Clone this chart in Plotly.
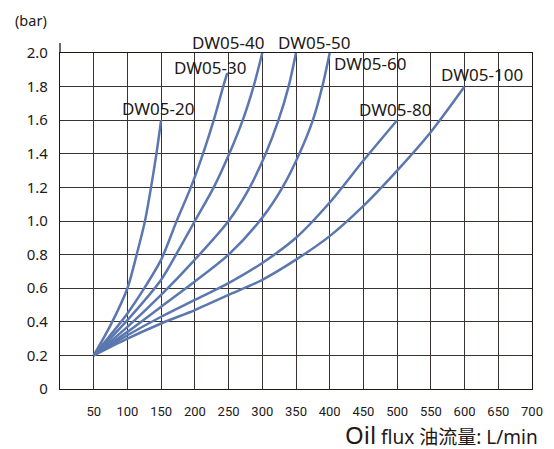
import plotly.graph_objects as go

# Flow (L/min) and pressure drop (bar)
dw20_x = [50, 75, 100, 115, 126, 135, 143, 150]
dw20_y = [0.2, 0.38, 0.6, 0.82, 1.0, 1.2, 1.4, 1.6]

dw30_x = [50, 100, 125, 150, 173, 194, 212, 228, 242, 248]
dw30_y = [0.2, 0.45, 0.6, 0.77, 1.0, 1.2, 1.4, 1.6, 1.8, 1.88]

dw40_x = [50, 100, 150, 175, 200, 228, 251, 271, 287, 300]
dw40_y = [0.2, 0.41, 0.65, 0.82, 1.0, 1.2, 1.4, 1.6, 1.8, 2.0]

dw50_x = [50, 100, 150, 200, 250, 280, 305, 324, 339, 350]
dw50_y = [0.2, 0.37, 0.56, 0.77, 1.0, 1.19, 1.4, 1.6, 1.8, 2.0]

dw60_x = [50, 100, 150, 200, 250, 300, 330, 355, 375, 389, 400]
dw60_y = [0.2, 0.34, 0.49, 0.64, 0.8, 1.02, 1.2, 1.4, 1.6, 1.8, 2.0]

dw80_x = [50, 100, 150, 200, 250, 300, 350, 400, 450, 500]
dw80_y = [0.2, 0.32, 0.43, 0.53, 0.63, 0.75, 0.9, 1.11, 1.36, 1.6]

dw100_x = [50, 100, 150, 200, 250, 300, 350, 400, 450, 500, 550, 600]
dw100_y = [0.2, 0.3, 0.39, 0.47, 0.56, 0.65, 0.77, 0.91, 1.09, 1.3, 1.53, 1.8]

series_names = ["DW05-20", "DW05-30", "DW05-40", "DW05-50", "DW05-60", "DW05-80", "DW05-100"]
series_x = [dw20_x, dw30_x, dw40_x, dw50_x, dw60_x, dw80_x, dw100_x]
series_y = [dw20_y, dw30_y, dw40_y, dw50_y, dw60_y, dw80_y, dw100_y]

# label anchor positions (x in data units, y in paper units)
label_x = [146, 223, 249, 377, 460, 497, 626]
label_y = [0.836, 0.958, 1.03, 1.03, 0.97, 0.833, 0.935]

x_ticks = list(range(50, 701, 50))
y_ticks = [0, 0.2, 0.4, 0.6, 0.8, 1.0, 1.2, 1.4, 1.6, 1.8, 2.0]
y_tick_text = ["0", "0.2", "0.4", "0.6", "0.8", "1.0", "1.2", "1.4", "1.6", "1.8", "2.0"]

LINE = "#5b77af"
INK = "#231815"
GRID = "#3a3230"
FONT = "Noto Sans, Open Sans, sans-serif"

fig = go.Figure()
for name, xs, ys in zip(series_names, series_x, series_y):
    fig.add_trace(go.Scatter(x=xs, y=ys, mode="lines", name=name,
                             line=dict(color=LINE, width=2.5, shape="spline", smoothing=0.8),
                             showlegend=False, hoverinfo="skip"))

for name, lx, ly in zip(series_names, label_x, label_y):
    fig.add_annotation(x=lx, y=ly, xref="x", yref="paper", text=name, showarrow=False,
                       xanchor="center", yanchor="middle",
                       font=dict(family=FONT, size=17, color=INK))

fig.add_annotation(x=-0.099, y=1.098, xref="paper", yref="paper", xanchor="left", yanchor="middle",
                   text="(bar)", showarrow=False, font=dict(family=FONT, size=14.5, color=INK))

fig.add_annotation(x=1.017, y=-0.136, xref="paper", yref="paper", xanchor="right", yanchor="middle",
                   text='<span style="font-size:24px">Oil</span> flux 油流量: L/min', showarrow=False,
                   font=dict(family="Noto Sans, Noto Sans CJK SC, sans-serif", size=19, color=INK))

# left axis extension above 2.0
fig.add_shape(type="line", xref="paper", yref="paper", x0=0, x1=0, y0=1, y1=1.03,
              line=dict(color=INK, width=1.3))

fig.update_layout(
    width=546, height=441,
    margin=dict(l=52, r=22, t=45, b=60),
    paper_bgcolor="white", plot_bgcolor="white",
    xaxis=dict(range=[0, 700], tickvals=x_ticks, showgrid=True, gridcolor=GRID, gridwidth=1.2,
               showline=True, linecolor=INK, linewidth=1.3, mirror=True, zeroline=False,
               ticks="", ticklabelstandoff=10,
               tickfont=dict(family="Liberation Sans Narrow, Roboto, sans-serif", size=13, color=INK)),
    yaxis=dict(range=[0, 2.0], tickvals=y_ticks, ticktext=y_tick_text, showgrid=True,
               gridcolor=GRID, gridwidth=1.2, showline=True, linecolor=INK, linewidth=1.3,
               mirror=True, zeroline=False, ticks="", ticklabelstandoff=8,
               tickfont=dict(family=FONT, size=15, color=INK)),
)

fig.write_html("out.html")
